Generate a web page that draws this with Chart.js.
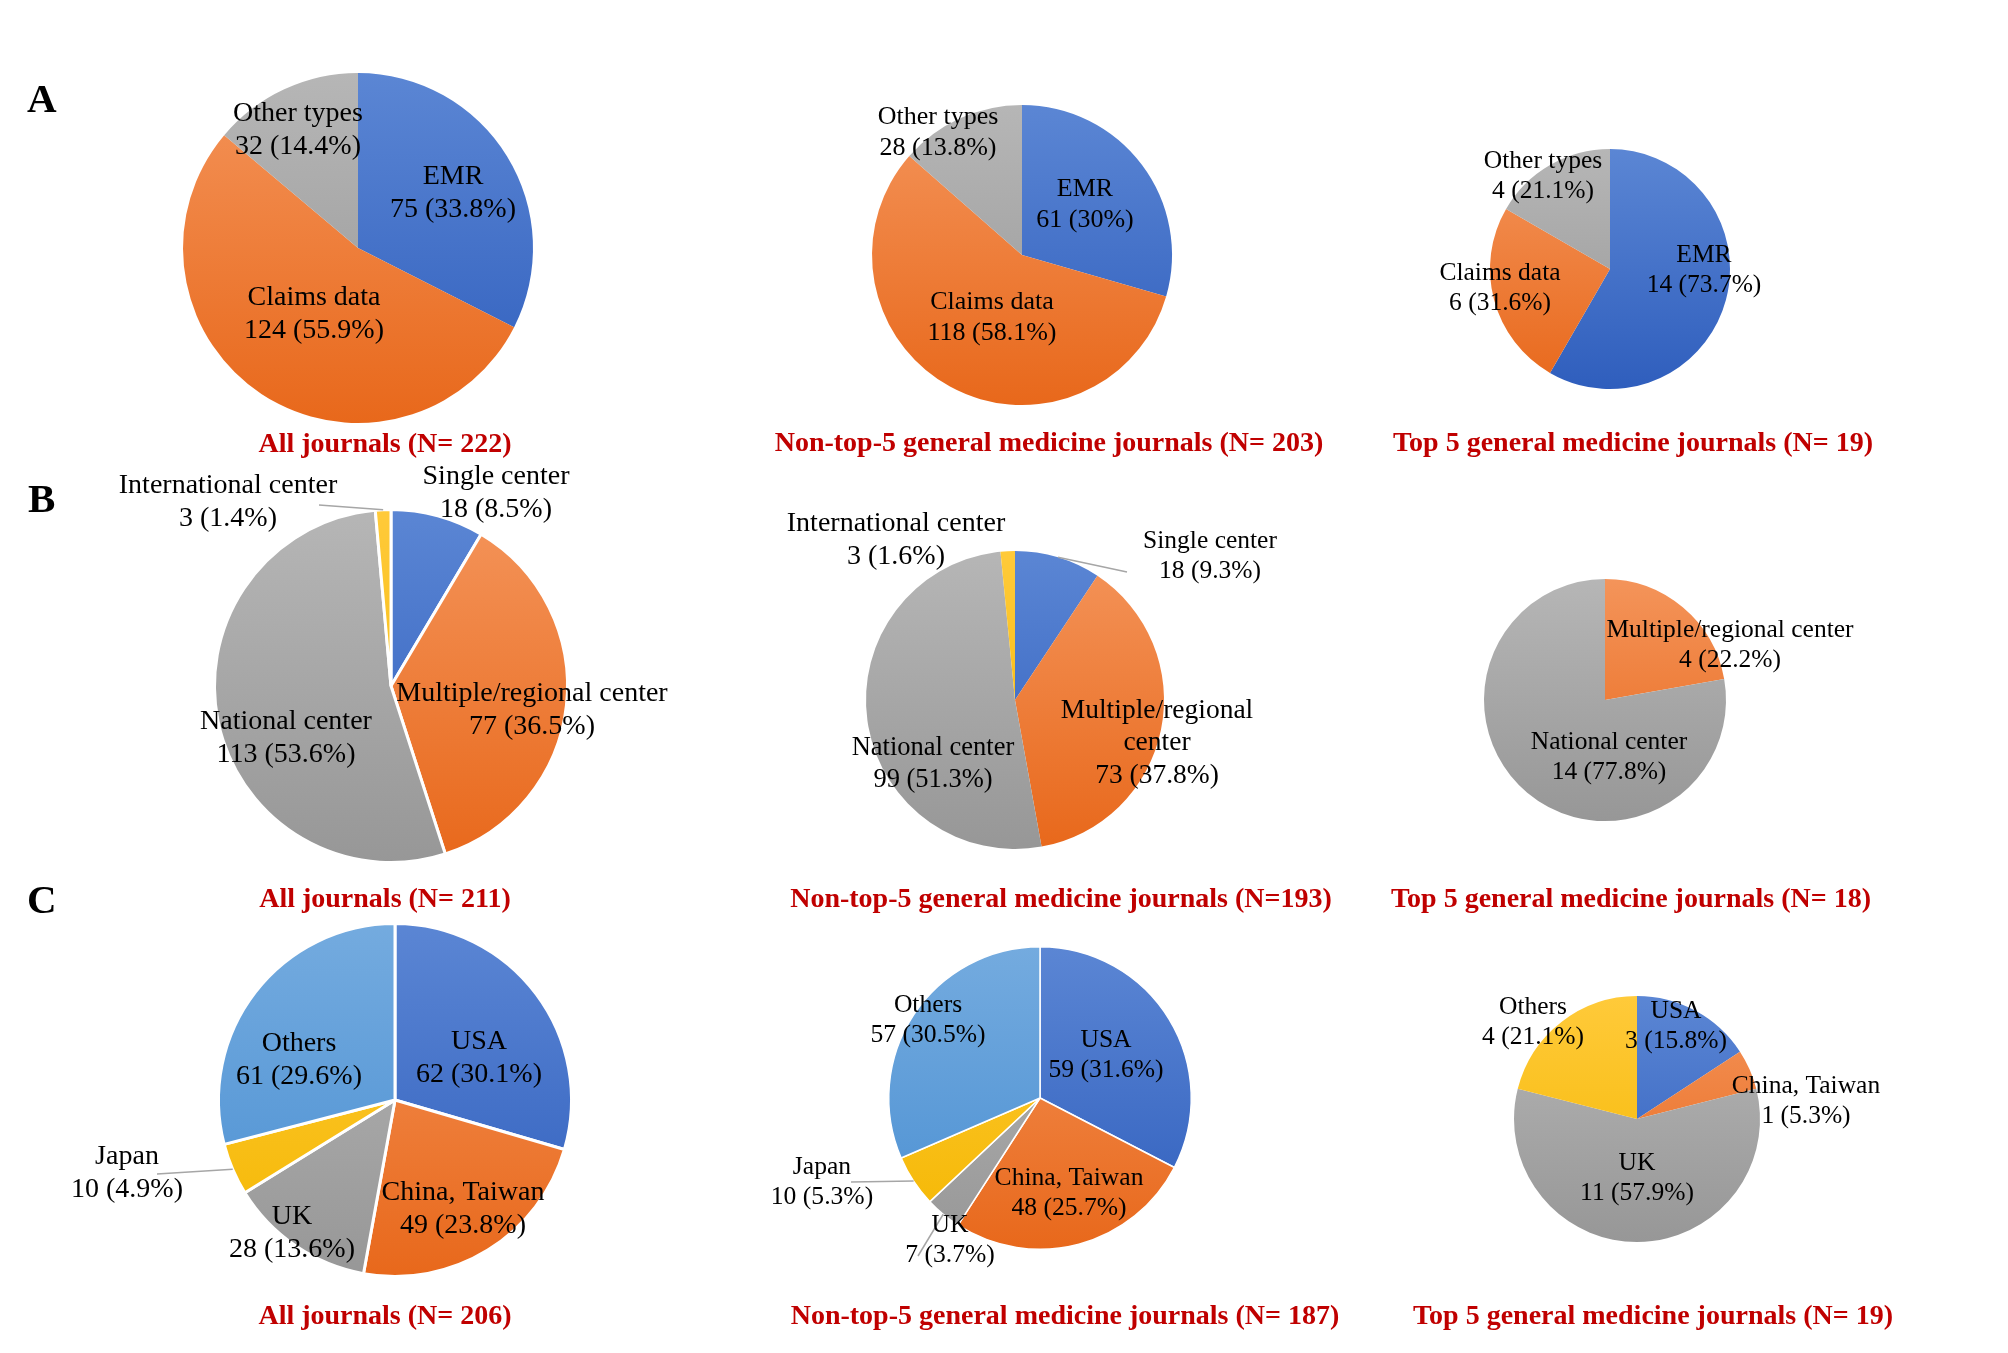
<!DOCTYPE html>
<html>
<head>
<meta charset="utf-8">
<script src="https://cdn.jsdelivr.net/npm/chart.js@4.4.1/dist/chart.umd.min.js"></script>
<style>
  body { margin: 0; background: #fff; }
  #page { position: relative; width: 2008px; height: 1353px; overflow: hidden; background: #fff; }
  canvas { position: absolute; }
  .title { position: absolute; transform: translate(-50%, -50%); white-space: nowrap;
           font: bold 28px 'Liberation Serif', 'Times New Roman', serif; color: #c00000; }
  .letter { position: absolute; font: bold 41px 'Liberation Serif', 'Times New Roman', serif; color: #000; }
</style>
</head>
<body>
<div id="page"></div>
<script>
// ---- data ----
const typeLabels = ['EMR', 'Claims data', 'Other types'];
const typeAll = [75, 124, 32];
const typeAllPct = ['33.8%', '55.9%', '14.4%'];
const typeNonTop = [61, 118, 28];
const typeNonTopPct = ['30%', '58.1%', '13.8%'];
const typeTop = [14, 6, 4];
const typeTopPct = ['73.7%', '31.6%', '21.1%'];

const centerLabels = ['Single center', 'Multiple/regional center', 'National center', 'International center'];
const centerAll = [18, 77, 113, 3];
const centerAllPct = ['8.5%', '36.5%', '53.6%', '1.4%'];
const centerNonTop = [18, 73, 99, 3];
const centerNonTopPct = ['9.3%', '37.8%', '51.3%', '1.6%'];
const centerTop = [0, 4, 14, 0];
const centerTopPct = ['', '22.2%', '77.8%', ''];

const countryLabels = ['USA', 'China, Taiwan', 'UK', 'Japan', 'Others'];
const countryAll = [62, 49, 28, 10, 61];
const countryAllPct = ['30.1%', '23.8%', '13.6%', '4.9%', '29.6%'];
const countryNonTop = [59, 48, 7, 10, 57];
const countryNonTopPct = ['31.6%', '25.7%', '3.7%', '5.3%', '30.5%'];
const countryTopLabels = ['USA', 'China, Taiwan', 'UK', 'Others'];
const countryTop = [3, 1, 11, 4];
const countryTopPct = ['15.8%', '5.3%', '57.9%', '21.1%'];

const titlesA = ['All journals (N= 222)', 'Non-top-5 general medicine journals (N= 203)', 'Top 5 general medicine journals (N= 19)'];
const titlesB = ['All journals (N= 211)', 'Non-top-5 general medicine journals (N=193)', 'Top 5 general medicine journals (N= 18)'];
const titlesC = ['All journals (N= 206)', 'Non-top-5 general medicine journals (N= 187)', 'Top 5 general medicine journals (N= 19)'];

// office palette, [top, bottom] of the gradient
const BLUE = ['#5b86d4', '#2f5ebd'];
const ORANGE = ['#f4945a', '#e8681b'];
const GRAY = ['#b6b6b6', '#979797'];
const GOLD = ['#ffca3a', '#f4b700'];
const LIGHTBLUE = ['#74abdf', '#4a8fd2'];

// ---- layout (pie centre, radius, label placement relative to centre) ----
const panels = [
  { cx: 358, cy: 248, r: 175, font: 28, border: 0, labels: typeLabels, values: typeAll, pct: typeAllPct,
    colors: [BLUE, ORANGE, GRAY], title: titlesA[0], tx: 385, ty: 443,
    place: [{ dx: 95, dy: -55 }, { dx: -44, dy: 66 }, { dx: -60, dy: -118 }] },
  { cx: 1022, cy: 255, r: 150, font: 26, border: 0, labels: typeLabels, values: typeNonTop, pct: typeNonTopPct,
    colors: [BLUE, ORANGE, GRAY], title: titlesA[1], tx: 1049, ty: 442,
    place: [{ dx: 63, dy: -50 }, { dx: -30, dy: 63 }, { dx: -84, dy: -122 }] },
  { cx: 1610, cy: 269, r: 120, font: 25.5, border: 0, labels: typeLabels, values: typeTop, pct: typeTopPct,
    colors: [BLUE, ORANGE, GRAY], title: titlesA[2], tx: 1633, ty: 442,
    place: [{ dx: 94, dy: 1 }, { dx: -110, dy: 19 }, { dx: -67, dy: -93 }] },

  { cx: 391, cy: 686, r: 178, font: 28, border: 3, labels: centerLabels, values: centerAll, pct: centerAllPct,
    colors: [BLUE, ORANGE, GRAY, GOLD], title: titlesB[0], tx: 385, ty: 898,
    place: [{ dx: 105, dy: -193 }, { dx: 141, dy: 24 }, { dx: -105, dy: 52 },
            { dx: -163, dy: -184, leader: [91, 3] }] },
  { cx: 1015, cy: 700, r: 149, font: 26.5, border: 0, labels: centerLabels, values: centerNonTop, pct: centerNonTopPct,
    colors: [BLUE, ORANGE, GRAY, GOLD], title: titlesB[1], tx: 1061, ty: 898,
    place: [{ dx: 195, dy: -144, size: 25.5, leader: [-83, 16] }, { dx: 142, dy: 43, wrap: true, size: 27.5 },
            { dx: -82, dy: 64 }, { dx: -119, dy: -160, size: 28 }] },
  { cx: 1605, cy: 700, r: 121, font: 25.5, border: 0, labels: centerLabels, values: centerTop, pct: centerTopPct,
    colors: [BLUE, ORANGE, GRAY, GOLD], title: titlesB[2], tx: 1631, ty: 898,
    place: [null, { dx: 125, dy: -55 }, { dx: 4, dy: 57 }, null] },

  { cx: 395, cy: 1100, r: 178, font: 28, border: 3, labels: countryLabels, values: countryAll, pct: countryAllPct,
    colors: [BLUE, ORANGE, GRAY, GOLD, LIGHTBLUE], title: titlesC[0], tx: 385, ty: 1315,
    place: [{ dx: 84, dy: -42 }, { dx: 68, dy: 109 }, { dx: -103, dy: 133 },
            { dx: -268, dy: 73, leader: [30, 1] }, { dx: -96, dy: -40 }] },
  { cx: 1040, cy: 1098, r: 152, font: 25.6, border: 1.5, labels: countryLabels, values: countryNonTop, pct: countryNonTopPct,
    colors: [BLUE, ORANGE, GRAY, GOLD, LIGHTBLUE], title: titlesC[1], tx: 1065, ty: 1315,
    place: [{ dx: 66, dy: -43 }, { dx: 29, dy: 95 }, { dx: -90, dy: 142, leader: [-32, 16] },
            { dx: -218, dy: 84, leader: [29, 0] }, { dx: -112, dy: -78 }] },
  { cx: 1637, cy: 1119, r: 123, font: 25.5, border: 0, labels: countryTopLabels, values: countryTop, pct: countryTopPct,
    colors: [BLUE, ORANGE, GRAY, GOLD], title: titlesC[2], tx: 1653, ty: 1315,
    place: [{ dx: 39, dy: -93 }, { dx: 169, dy: -18 }, { dx: 0, dy: 59 }, { dx: -104, dy: -97 }] }
];

const CW = 680, CH = 480;
const page = document.getElementById('page');

function gradientFor(chart, pair) {
    const a = chart.chartArea;
    if (!a) return pair[0];
    const g = chart.ctx.createLinearGradient(0, a.top, 0, a.bottom);
    g.addColorStop(0, pair[0]);
    g.addColorStop(1, pair[1]);
    return g;
}

// draws the two-line "name / count (pct)" labels and the leader lines
const sliceLabels = {
    id: 'sliceLabels',
    afterDatasetsDraw(chart, args, opts) {
        const p = opts.panel;
        const meta = chart.getDatasetMeta(0);
        const ctx = chart.ctx;
        ctx.save();
        meta.data.forEach((arc, i) => {
            const spec = p.place[i];
            if (!spec) return;
            const { x, y, startAngle, endAngle, outerRadius } = arc.getProps(['x', 'y', 'startAngle', 'endAngle', 'outerRadius'], true);
            const lx = x + spec.dx, ly = y + spec.dy;
            if (spec.leader) {
                const mid = (startAngle + endAngle) / 2;
                ctx.strokeStyle = '#a6a6a6';
                ctx.lineWidth = 1.5;
                ctx.beginPath();
                ctx.moveTo(x + Math.cos(mid) * outerRadius, y + Math.sin(mid) * outerRadius);
                ctx.lineTo(lx + spec.leader[0], ly + spec.leader[1]);
                ctx.stroke();
            }
            const size = spec.size || p.font;
            const lh = size * 1.18;
            let lines = [p.labels[i]];
            if (spec.wrap) {
                const k = p.labels[i].lastIndexOf(' ');
                lines = [p.labels[i].slice(0, k), p.labels[i].slice(k + 1)];
            }
            lines.push(p.values[i] + ' (' + p.pct[i] + ')');
            ctx.font = size + "px 'Liberation Serif', 'Times New Roman', serif";
            ctx.fillStyle = '#000';
            ctx.textAlign = 'center';
            ctx.textBaseline = 'middle';
            const top = ly - (lines.length - 1) * lh / 2;
            lines.forEach((t, j) => ctx.fillText(t, lx, top + j * lh));
        });
        ctx.restore();
    }
};

panels.forEach((p) => {
    const cv = document.createElement('canvas');
    cv.width = CW;
    cv.height = CH;
    cv.style.left = (p.cx - CW / 2) + 'px';
    cv.style.top = (p.cy - CH / 2) + 'px';
    page.appendChild(cv);

    const padX = CW / 2 - p.r, padY = CH / 2 - p.r;
    new Chart(cv, {
        type: 'pie',
        data: {
            labels: p.labels,
            datasets: [{
                data: p.values,
                backgroundColor: (c) => gradientFor(c.chart, p.colors[c.dataIndex]),
                borderColor: '#ffffff',
                borderWidth: p.border
            }]
        },
        options: {
            responsive: false,
            animation: false,
            events: [],
            layout: { padding: { left: padX, right: padX, top: padY, bottom: padY } },
            plugins: {
                legend: { display: false },
                tooltip: { enabled: false },
                sliceLabels: { panel: p }
            }
        },
        plugins: [sliceLabels]
    });

    const t = document.createElement('div');
    t.className = 'title';
    t.style.left = p.tx + 'px';
    t.style.top = p.ty + 'px';
    t.textContent = p.title;
    page.appendChild(t);
});

// section letters
[['A', 27, 74], ['B', 28, 474], ['C', 27, 875]].forEach(([s, x, y]) => {
    const d = document.createElement('div');
    d.className = 'letter';
    d.style.left = x + 'px';
    d.style.top = y + 'px';
    d.textContent = s;
    page.appendChild(d);
});
</script>
</body>
</html>
